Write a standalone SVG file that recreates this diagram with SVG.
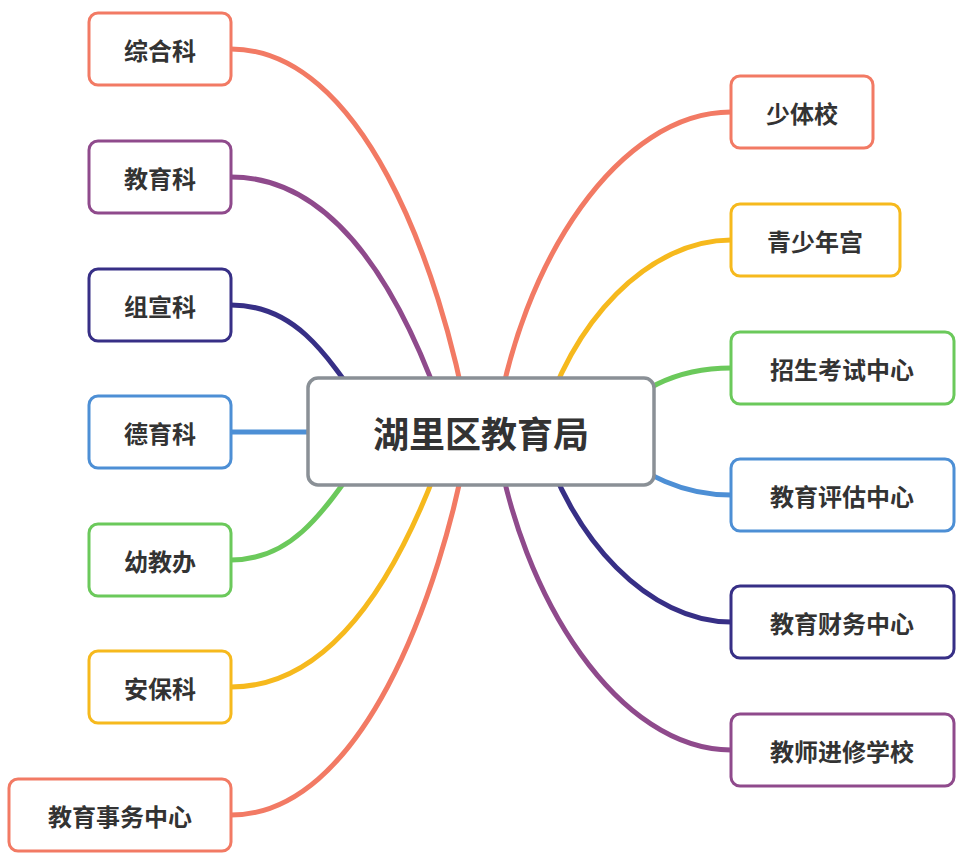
<svg xmlns="http://www.w3.org/2000/svg" width="967" height="860" viewBox="0 0 967 860">
<style>
.n{fill:#fff;stroke-width:3}
.t{font-family:"Noto Sans CJK SC",sans-serif;font-size:24px;font-weight:bold;fill:#333;text-anchor:middle;dominant-baseline:central}
.c path{fill:none;stroke-width:5;stroke-linecap:round}
.coral{stroke:#f27a64}.purple{stroke:#8f4a8c}.navy{stroke:#372f86}.blue{stroke:#4d8fd5}.green{stroke:#6bc95b}.yellow{stroke:#f6b91d}
</style>
<rect width="967" height="860" fill="#fff"/>
<g class="c" id="connectors">
<path class="coral" d="M231,49 C360,49 440,260 470,432"/>
<path class="purple" d="M231,177 C330,177 400,280 450,432"/>
<path class="navy" d="M231,305 C300,305 330,360 380,432"/>
<path class="blue" d="M231,432 L481,432"/>
<path class="green" d="M231,560 C300,560 330,500 380,432"/>
<path class="yellow" d="M231,687 C330,687 400,580 450,432"/>
<path class="coral" d="M231,815 C360,815 440,600 470,432"/>
<path class="coral" d="M731,112 C620,112 520,260 495,432"/>
<path class="yellow" d="M731,240 C650,240 570,320 540,432"/>
<path class="green" d="M731,368 C690,368 640,380 600,432"/>
<path class="blue" d="M731,495 C690,495 640,480 600,432"/>
<path class="navy" d="M731,622 C650,622 570,540 540,432"/>
<path class="purple" d="M731,750 C620,750 520,600 495,432"/>
</g>
<g id="center"><rect x="308" y="378" width="346" height="107" rx="10" fill="#fff" stroke="#8a9096" stroke-width="3.5"/><text class="t" x="481" y="432" style="font-size:36px">湖里区教育局</text></g>
<g id="n1"><rect class="n coral" x="89" y="13" width="142" height="72" rx="9"/><text class="t" x="160" y="49">综合科</text></g>
<g id="n2"><rect class="n purple" x="89" y="141" width="142" height="72" rx="9"/><text class="t" x="160" y="177">教育科</text></g>
<g id="n3"><rect class="n navy" x="89" y="269" width="142" height="72" rx="9"/><text class="t" x="160" y="305">组宣科</text></g>
<g id="n4"><rect class="n blue" x="89" y="396" width="142" height="72" rx="9"/><text class="t" x="160" y="432">德育科</text></g>
<g id="n5"><rect class="n green" x="89" y="524" width="142" height="72" rx="9"/><text class="t" x="160" y="560">幼教办</text></g>
<g id="n6"><rect class="n yellow" x="89" y="651" width="142" height="72" rx="9"/><text class="t" x="160" y="687">安保科</text></g>
<g id="n7"><rect class="n coral" x="9" y="779" width="222" height="72" rx="9"/><text class="t" x="120" y="815">教育事务中心</text></g>
<g id="n8"><rect class="n coral" x="731" y="76" width="142" height="72" rx="9"/><text class="t" x="802" y="112">少体校</text></g>
<g id="n9"><rect class="n yellow" x="731" y="204" width="169" height="72" rx="9"/><text class="t" x="815" y="240">青少年宫</text></g>
<g id="n10"><rect class="n green" x="731" y="332" width="223" height="72" rx="9"/><text class="t" x="842" y="368">招生考试中心</text></g>
<g id="n11"><rect class="n blue" x="731" y="459" width="223" height="72" rx="9"/><text class="t" x="842" y="495">教育评估中心</text></g>
<g id="n12"><rect class="n navy" x="731" y="586" width="223" height="72" rx="9"/><text class="t" x="842" y="622">教育财务中心</text></g>
<g id="n13"><rect class="n purple" x="731" y="714" width="223" height="72" rx="9"/><text class="t" x="842" y="750">教师进修学校</text></g>
</svg>
